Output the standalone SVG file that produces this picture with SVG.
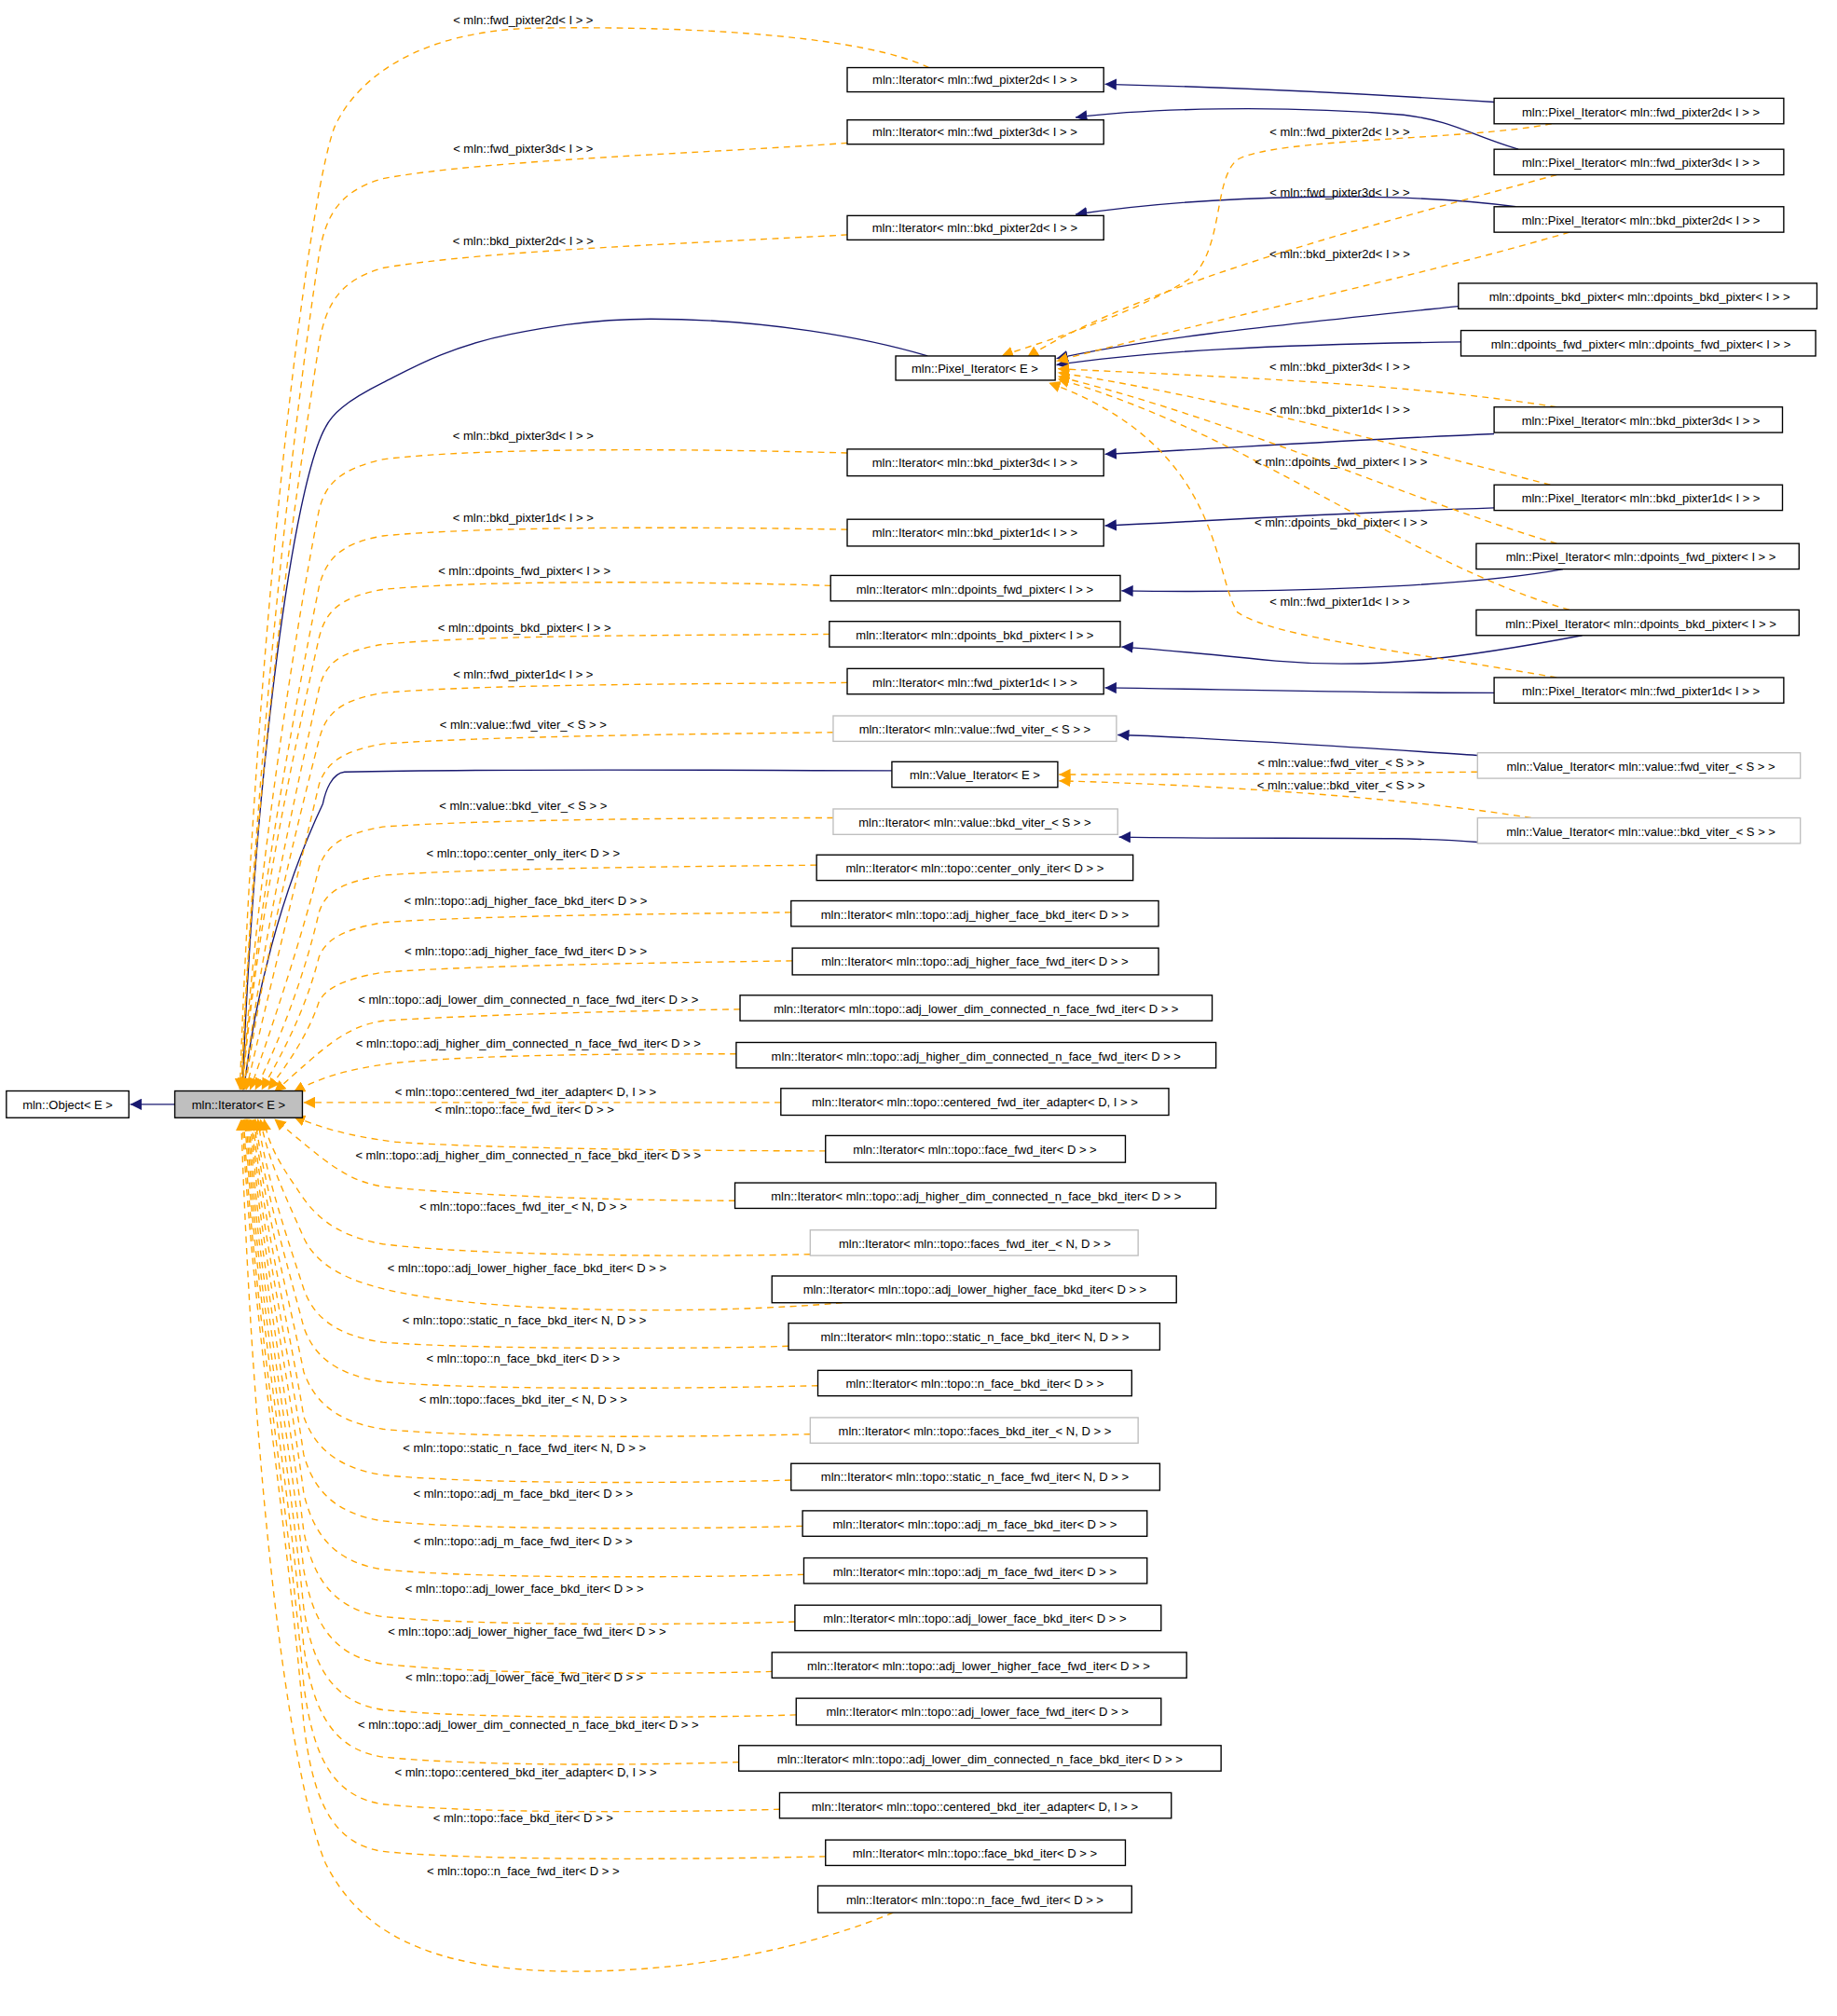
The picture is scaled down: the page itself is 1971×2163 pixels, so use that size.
<svg xmlns="http://www.w3.org/2000/svg" width="1971" height="2163" viewBox="0 0 1971 2163">
<style>
.n rect{fill:#fff;stroke:#000;stroke-width:1}
.g rect{fill:#fff;stroke:#bfbfbf;stroke-width:1}
text{font-family:"Liberation Sans",Arial,sans-serif;font-size:9.5px;fill:#000;text-anchor:middle}
.o{fill:none;stroke:#ffa500;stroke-width:1;stroke-dasharray:5,4;marker-end:url(#ao)}
.b{fill:none;stroke:#191970;stroke-width:1;marker-end:url(#ab)}
</style>
<defs>
<marker id="ao" viewBox="0 0 10 10" refX="10" refY="5" markerWidth="9" markerHeight="9" markerUnits="userSpaceOnUse" orient="auto"><path d="M0,0L10,5L0,10z" fill="#ffa500"/></marker>
<marker id="ab" viewBox="0 0 10 10" refX="10" refY="5" markerWidth="9" markerHeight="9" markerUnits="userSpaceOnUse" orient="auto"><path d="M0,0L10,5L0,10z" fill="#191970"/></marker>
</defs>
<rect width="1971" height="2163" fill="#fff"/>
<g transform="scale(1.369)">
<g id="edges">
<path class="b" d="M137,865.5L102,865.5"/>
<path class="b" d="M727,279C680,265 600,250 510,250C460,250 420,258 400,262C350,272 320,290 300,300C270,315 260,325 255,335C230,380 200,600 190,854"/>
<path class="b" d="M699,604C600,604 400,602 270,605C260,606 255,620 253,630C220,700 200,780 191,854"/>
<!-- left orange, above -->
<path class="o" d="M728,53C680,30 560,20 420,22C330,24 280,60 262,100C240,160 200,500 188,854"/>
<path class="o" d="M664,112C560,120 380,125 300,140C265,150 255,170 250,200C230,330 200,600 189,854"/>
<path class="o" d="M664,184C560,190 380,196 300,210C265,220 255,240 250,270C230,400 200,600 189,854"/>
<path class="o" d="M664,355C560,352 380,350 300,360C265,368 255,380 250,400C230,500 200,700 190,854"/>
<path class="o" d="M664,415C560,413 380,412 300,420C265,426 255,440 250,460C230,560 200,720 190,854"/>
<path class="o" d="M651,459C560,456 380,454 300,462C265,468 255,480 250,500C230,590 200,730 190,854"/>
<path class="o" d="M650,497C560,498 380,497 300,505C265,511 255,520 250,540C232,620 205,740 191,854"/>
<path class="o" d="M664,535C560,536 380,536 300,543C265,549 255,560 250,580C232,650 205,760 192,854"/>
<path class="o" d="M653,574C560,575 380,577 300,583C265,589 255,600 250,615C235,680 210,780 193,854"/>
<path class="o" d="M653,641C560,641 380,642 300,648C265,654 255,665 250,680C238,730 215,800 196,854"/>
<path class="o" d="M640,678C560,679 380,680 300,686C265,692 255,700 250,715C240,760 220,815 200,854"/>
<path class="o" d="M620,715C560,716 380,717 300,723C265,729 255,738 250,750C240,790 222,825 205,854"/>
<path class="o" d="M621,753C560,754 380,756 300,762C265,768 255,776 250,785C242,810 225,835 210,854"/>
<path class="o" d="M580,791C500,792 380,795 300,800C270,805 255,820 215,856"/>
<path class="o" d="M577,826C500,826 380,826 310,833C270,838 250,845 230,856"/>
<path class="o" d="M612,864L238,864"/>
<path class="o" d="M647,902C550,902 380,900 310,895C270,890 250,883 230,875"/>
<!-- left orange, below -->
<path class="o" d="M576,941C500,941 380,938 300,930C270,925 255,910 215,877"/>
<path class="o" d="M635,983C560,985 380,985 300,975C260,968 245,950 235,935C225,920 210,900 207,877"/>
<path class="o" d="M660,1021C560,1030 380,1030 300,1010C260,1000 245,985 238,970C225,940 210,910 204,877"/>
<path class="o" d="M618,1055C560,1057 380,1058 300,1052C260,1046 245,1030 238,1010C225,970 208,920 202,877"/>
<path class="o" d="M641,1086C560,1088 380,1090 300,1083C260,1077 245,1060 238,1040C225,990 207,930 200,877"/>
<path class="o" d="M635,1124C560,1126 380,1128 300,1120C260,1114 245,1095 238,1075C225,1010 206,940 199,877"/>
<path class="o" d="M620,1160C560,1162 380,1164 300,1156C260,1150 245,1130 238,1110C225,1030 205,950 198,877"/>
<path class="o" d="M629,1196C560,1198 380,1200 300,1192C260,1186 245,1165 238,1140C225,1050 204,960 197,877"/>
<path class="o" d="M630,1234C560,1236 380,1238 300,1230C260,1224 245,1200 238,1170C225,1070 203,970 196,877"/>
<path class="o" d="M623,1271C560,1273 380,1275 300,1267C260,1261 245,1235 238,1200C225,1090 202,980 195,877"/>
<path class="o" d="M605,1310C540,1312 380,1313 300,1304C260,1298 245,1270 238,1230C225,1110 201,990 194,877"/>
<path class="o" d="M624,1344C560,1346 380,1348 300,1340C260,1334 245,1305 238,1260C225,1130 200,1000 193,877"/>
<path class="o" d="M579,1381C520,1383 380,1385 300,1377C260,1371 245,1340 238,1290C225,1150 199,1010 192,877"/>
<path class="o" d="M611,1418C540,1420 380,1422 300,1414C260,1408 245,1375 238,1320C225,1170 198,1020 191,877"/>
<path class="o" d="M647,1455C560,1457 380,1459 300,1451C260,1445 245,1410 238,1350C225,1190 197,1030 190,877"/>
<path class="o" d="M700,1499C650,1520 560,1545 450,1545C330,1545 280,1510 255,1460C230,1400 200,1200 189,877"/>
<!-- right navy -->
<path class="b" d="M1171,80C1050,72 950,68 866,66"/>
<path class="b" d="M1190,117C1150,105 1140,95 1100,90C1000,82 900,85 843,92"/>
<path class="b" d="M1188,162C1100,150 950,152 843,168"/>
<path class="b" d="M1143,240C1000,255 900,265 828,281"/>
<path class="b" d="M1145,268C1000,270 900,275 828,286"/>
<path class="b" d="M1171,340C1050,345 950,352 866,356"/>
<path class="b" d="M1171,398C1050,402 950,408 866,412"/>
<path class="b" d="M1225,446C1150,460 1000,465 879,463"/>
<path class="b" d="M1240,498C1150,515 1080,525 1000,518C950,513 900,508 879,507"/>
<path class="b" d="M1171,543C1050,543 950,540 866,539"/>
<path class="b" d="M1158,592C1050,585 950,578 876,576"/>
<path class="b" d="M1158,660C1100,655 1000,658 877,656"/>
<!-- right orange -->
<path class="o" d="M1216,97C1150,110 1000,108 970,125C950,140 960,200 930,220C880,250 810,270 785,279"/>
<path class="o" d="M1220,137C1100,170 900,220 805,280"/>
<path class="o" d="M1230,182C1100,220 950,250 828,283"/>
<path class="o" d="M1220,319C1100,300 950,295 829,289"/>
<path class="o" d="M1215,380C1100,350 950,310 829,292"/>
<path class="o" d="M1220,426C1100,390 970,330 829,295"/>
<path class="o" d="M1230,478C1100,440 980,340 829,297"/>
<path class="o" d="M1220,531C1100,510 1000,500 970,480C950,450 960,350 822,300"/>
<path class="o" d="M1158,605C1050,606 950,607 830,607"/>
<path class="o" d="M1200,641C1100,625 950,615 830,612"/>
<!-- labels -->
<text x="410" y="19">&lt; mln::fwd_pixter2d&lt; I &gt; &gt;</text>
<text x="410" y="120">&lt; mln::fwd_pixter3d&lt; I &gt; &gt;</text>
<text x="410" y="192">&lt; mln::bkd_pixter2d&lt; I &gt; &gt;</text>
<text x="410" y="345">&lt; mln::bkd_pixter3d&lt; I &gt; &gt;</text>
<text x="410" y="409">&lt; mln::bkd_pixter1d&lt; I &gt; &gt;</text>
<text x="411" y="451">&lt; mln::dpoints_fwd_pixter&lt; I &gt; &gt;</text>
<text x="411" y="495">&lt; mln::dpoints_bkd_pixter&lt; I &gt; &gt;</text>
<text x="410" y="532">&lt; mln::fwd_pixter1d&lt; I &gt; &gt;</text>
<text x="410" y="571">&lt; mln::value::fwd_viter_&lt; S &gt; &gt;</text>
<text x="410" y="635">&lt; mln::value::bkd_viter_&lt; S &gt; &gt;</text>
<text x="410" y="672">&lt; mln::topo::center_only_iter&lt; D &gt; &gt;</text>
<text x="412" y="709">&lt; mln::topo::adj_higher_face_bkd_iter&lt; D &gt; &gt;</text>
<text x="412" y="749">&lt; mln::topo::adj_higher_face_fwd_iter&lt; D &gt; &gt;</text>
<text x="414" y="787">&lt; mln::topo::adj_lower_dim_connected_n_face_fwd_iter&lt; D &gt; &gt;</text>
<text x="414" y="821">&lt; mln::topo::adj_higher_dim_connected_n_face_fwd_iter&lt; D &gt; &gt;</text>
<text x="412" y="859">&lt; mln::topo::centered_fwd_iter_adapter&lt; D, I &gt; &gt;</text>
<text x="411" y="873">&lt; mln::topo::face_fwd_iter&lt; D &gt; &gt;</text>
<text x="414" y="909">&lt; mln::topo::adj_higher_dim_connected_n_face_bkd_iter&lt; D &gt; &gt;</text>
<text x="410" y="949">&lt; mln::topo::faces_fwd_iter_&lt; N, D &gt; &gt;</text>
<text x="413" y="997">&lt; mln::topo::adj_lower_higher_face_bkd_iter&lt; D &gt; &gt;</text>
<text x="411" y="1038">&lt; mln::topo::static_n_face_bkd_iter&lt; N, D &gt; &gt;</text>
<text x="410" y="1068">&lt; mln::topo::n_face_bkd_iter&lt; D &gt; &gt;</text>
<text x="410" y="1100">&lt; mln::topo::faces_bkd_iter_&lt; N, D &gt; &gt;</text>
<text x="411" y="1138">&lt; mln::topo::static_n_face_fwd_iter&lt; N, D &gt; &gt;</text>
<text x="410" y="1174">&lt; mln::topo::adj_m_face_bkd_iter&lt; D &gt; &gt;</text>
<text x="410" y="1211">&lt; mln::topo::adj_m_face_fwd_iter&lt; D &gt; &gt;</text>
<text x="411" y="1248">&lt; mln::topo::adj_lower_face_bkd_iter&lt; D &gt; &gt;</text>
<text x="413" y="1282">&lt; mln::topo::adj_lower_higher_face_fwd_iter&lt; D &gt; &gt;</text>
<text x="411" y="1318">&lt; mln::topo::adj_lower_face_fwd_iter&lt; D &gt; &gt;</text>
<text x="414" y="1355">&lt; mln::topo::adj_lower_dim_connected_n_face_bkd_iter&lt; D &gt; &gt;</text>
<text x="412" y="1392">&lt; mln::topo::centered_bkd_iter_adapter&lt; D, I &gt; &gt;</text>
<text x="410" y="1428">&lt; mln::topo::face_bkd_iter&lt; D &gt; &gt;</text>
<text x="410" y="1470">&lt; mln::topo::n_face_fwd_iter&lt; D &gt; &gt;</text>
<text x="1050" y="107">&lt; mln::fwd_pixter2d&lt; I &gt; &gt;</text>
<text x="1050" y="154">&lt; mln::fwd_pixter3d&lt; I &gt; &gt;</text>
<text x="1050" y="202">&lt; mln::bkd_pixter2d&lt; I &gt; &gt;</text>
<text x="1050" y="291">&lt; mln::bkd_pixter3d&lt; I &gt; &gt;</text>
<text x="1050" y="324">&lt; mln::bkd_pixter1d&lt; I &gt; &gt;</text>
<text x="1051" y="365">&lt; mln::dpoints_fwd_pixter&lt; I &gt; &gt;</text>
<text x="1051" y="413">&lt; mln::dpoints_bkd_pixter&lt; I &gt; &gt;</text>
<text x="1050" y="475">&lt; mln::fwd_pixter1d&lt; I &gt; &gt;</text>
<text x="1051" y="601">&lt; mln::value::fwd_viter_&lt; S &gt; &gt;</text>
<text x="1051" y="619">&lt; mln::value::bkd_viter_&lt; S &gt; &gt;</text>
</g>
<g id="nodes">
<g id="object" class="n"><rect x="5" y="855" width="96" height="21"/><text x="53" y="869">mln::Object&lt; E &gt;</text></g>
<g id="iterator"><rect x="137" y="855" width="100" height="21" fill="#bfbfbf" stroke="#000"/><text x="187" y="869">mln::Iterator&lt; E &gt;</text></g>
<g id="m1" class="n"><rect x="664" y="53" width="201" height="19"/><text x="764" y="66">mln::Iterator&lt; mln::fwd_pixter2d&lt; I &gt; &gt;</text></g>
<g id="m2" class="n"><rect x="664" y="94" width="201" height="19"/><text x="764" y="107">mln::Iterator&lt; mln::fwd_pixter3d&lt; I &gt; &gt;</text></g>
<g id="m3" class="n"><rect x="664" y="169" width="201" height="19"/><text x="764" y="182">mln::Iterator&lt; mln::bkd_pixter2d&lt; I &gt; &gt;</text></g>
<g id="pixit" class="n"><rect x="702" y="279" width="125" height="19"/><text x="764" y="292">mln::Pixel_Iterator&lt; E &gt;</text></g>
<g id="m5" class="n"><rect x="664" y="352" width="201" height="21"/><text x="764" y="366">mln::Iterator&lt; mln::bkd_pixter3d&lt; I &gt; &gt;</text></g>
<g id="m6" class="n"><rect x="664" y="407" width="201" height="21"/><text x="764" y="421">mln::Iterator&lt; mln::bkd_pixter1d&lt; I &gt; &gt;</text></g>
<g id="m7" class="n"><rect x="651" y="451" width="227" height="20"/><text x="764" y="465">mln::Iterator&lt; mln::dpoints_fwd_pixter&lt; I &gt; &gt;</text></g>
<g id="m8" class="n"><rect x="650" y="487" width="228" height="20"/><text x="764" y="501">mln::Iterator&lt; mln::dpoints_bkd_pixter&lt; I &gt; &gt;</text></g>
<g id="m9" class="n"><rect x="664" y="524" width="201" height="20"/><text x="764" y="538">mln::Iterator&lt; mln::fwd_pixter1d&lt; I &gt; &gt;</text></g>
<g id="m10" class="g"><rect x="653" y="561" width="222" height="20"/><text x="764" y="575">mln::Iterator&lt; mln::value::fwd_viter_&lt; S &gt; &gt;</text></g>
<g id="valit" class="n"><rect x="699" y="597" width="130" height="20"/><text x="764" y="611">mln::Value_Iterator&lt; E &gt;</text></g>
<g id="m12" class="g"><rect x="653" y="634" width="223" height="20"/><text x="764" y="648">mln::Iterator&lt; mln::value::bkd_viter_&lt; S &gt; &gt;</text></g>
<g id="m13" class="n"><rect x="640" y="670" width="248" height="20"/><text x="764" y="684">mln::Iterator&lt; mln::topo::center_only_iter&lt; D &gt; &gt;</text></g>
<g id="m14" class="n"><rect x="620" y="706" width="288" height="20"/><text x="764" y="720">mln::Iterator&lt; mln::topo::adj_higher_face_bkd_iter&lt; D &gt; &gt;</text></g>
<g id="m15" class="n"><rect x="621" y="743" width="287" height="21"/><text x="764" y="757">mln::Iterator&lt; mln::topo::adj_higher_face_fwd_iter&lt; D &gt; &gt;</text></g>
<g id="m16" class="n"><rect x="580" y="780" width="370" height="20"/><text x="765" y="794">mln::Iterator&lt; mln::topo::adj_lower_dim_connected_n_face_fwd_iter&lt; D &gt; &gt;</text></g>
<g id="m17" class="n"><rect x="577" y="817" width="376" height="20"/><text x="765" y="831">mln::Iterator&lt; mln::topo::adj_higher_dim_connected_n_face_fwd_iter&lt; D &gt; &gt;</text></g>
<g id="m18" class="n"><rect x="612" y="853" width="304" height="21"/><text x="764" y="867">mln::Iterator&lt; mln::topo::centered_fwd_iter_adapter&lt; D, I &gt; &gt;</text></g>
<g id="m19" class="n"><rect x="647" y="890" width="235" height="21"/><text x="764" y="904">mln::Iterator&lt; mln::topo::face_fwd_iter&lt; D &gt; &gt;</text></g>
<g id="m20" class="n"><rect x="576" y="927" width="377" height="20"/><text x="765" y="941">mln::Iterator&lt; mln::topo::adj_higher_dim_connected_n_face_bkd_iter&lt; D &gt; &gt;</text></g>
<g id="m21" class="g"><rect x="635" y="964" width="257" height="20"/><text x="764" y="978">mln::Iterator&lt; mln::topo::faces_fwd_iter_&lt; N, D &gt; &gt;</text></g>
<g id="m22" class="n"><rect x="605" y="1000" width="317" height="21"/><text x="764" y="1014">mln::Iterator&lt; mln::topo::adj_lower_higher_face_bkd_iter&lt; D &gt; &gt;</text></g>
<g id="m23" class="n"><rect x="618" y="1037" width="291" height="21"/><text x="764" y="1051">mln::Iterator&lt; mln::topo::static_n_face_bkd_iter&lt; N, D &gt; &gt;</text></g>
<g id="m24" class="n"><rect x="641" y="1074" width="246" height="20"/><text x="764" y="1088">mln::Iterator&lt; mln::topo::n_face_bkd_iter&lt; D &gt; &gt;</text></g>
<g id="m25" class="g"><rect x="635" y="1111" width="257" height="20"/><text x="764" y="1125">mln::Iterator&lt; mln::topo::faces_bkd_iter_&lt; N, D &gt; &gt;</text></g>
<g id="m26" class="n"><rect x="620" y="1147" width="289" height="21"/><text x="764" y="1161">mln::Iterator&lt; mln::topo::static_n_face_fwd_iter&lt; N, D &gt; &gt;</text></g>
<g id="m27" class="n"><rect x="629" y="1184" width="270" height="20"/><text x="764" y="1198">mln::Iterator&lt; mln::topo::adj_m_face_bkd_iter&lt; D &gt; &gt;</text></g>
<g id="m28" class="n"><rect x="630" y="1221" width="269" height="20"/><text x="764" y="1235">mln::Iterator&lt; mln::topo::adj_m_face_fwd_iter&lt; D &gt; &gt;</text></g>
<g id="m29" class="n"><rect x="623" y="1258" width="287" height="20"/><text x="764" y="1272">mln::Iterator&lt; mln::topo::adj_lower_face_bkd_iter&lt; D &gt; &gt;</text></g>
<g id="m30" class="n"><rect x="605" y="1295" width="325" height="20"/><text x="767" y="1309">mln::Iterator&lt; mln::topo::adj_lower_higher_face_fwd_iter&lt; D &gt; &gt;</text></g>
<g id="m31" class="n"><rect x="624" y="1331" width="286" height="21"/><text x="766" y="1345">mln::Iterator&lt; mln::topo::adj_lower_face_fwd_iter&lt; D &gt; &gt;</text></g>
<g id="m32" class="n"><rect x="579" y="1368" width="378" height="20"/><text x="768" y="1382">mln::Iterator&lt; mln::topo::adj_lower_dim_connected_n_face_bkd_iter&lt; D &gt; &gt;</text></g>
<g id="m33" class="n"><rect x="611" y="1405" width="307" height="20"/><text x="764" y="1419">mln::Iterator&lt; mln::topo::centered_bkd_iter_adapter&lt; D, I &gt; &gt;</text></g>
<g id="m34" class="n"><rect x="647" y="1442" width="235" height="20"/><text x="764" y="1456">mln::Iterator&lt; mln::topo::face_bkd_iter&lt; D &gt; &gt;</text></g>
<g id="m35" class="n"><rect x="641" y="1478" width="246" height="21"/><text x="764" y="1492">mln::Iterator&lt; mln::topo::n_face_fwd_iter&lt; D &gt; &gt;</text></g>
<g id="r1" class="n"><rect x="1171" y="77" width="227" height="20"/><text x="1286" y="91">mln::Pixel_Iterator&lt; mln::fwd_pixter2d&lt; I &gt; &gt;</text></g>
<g id="r2" class="n"><rect x="1171" y="117" width="227" height="20"/><text x="1286" y="131">mln::Pixel_Iterator&lt; mln::fwd_pixter3d&lt; I &gt; &gt;</text></g>
<g id="r3" class="n"><rect x="1171" y="162" width="227" height="20"/><text x="1286" y="176">mln::Pixel_Iterator&lt; mln::bkd_pixter2d&lt; I &gt; &gt;</text></g>
<g id="r4" class="n"><rect x="1143" y="222" width="281" height="20"/><text x="1285" y="236">mln::dpoints_bkd_pixter&lt; mln::dpoints_bkd_pixter&lt; I &gt; &gt;</text></g>
<g id="r5" class="n"><rect x="1145" y="259" width="278" height="20"/><text x="1286" y="273">mln::dpoints_fwd_pixter&lt; mln::dpoints_fwd_pixter&lt; I &gt; &gt;</text></g>
<g id="r6" class="n"><rect x="1171" y="319" width="226" height="20"/><text x="1286" y="333">mln::Pixel_Iterator&lt; mln::bkd_pixter3d&lt; I &gt; &gt;</text></g>
<g id="r7" class="n"><rect x="1171" y="380" width="226" height="20"/><text x="1286" y="394">mln::Pixel_Iterator&lt; mln::bkd_pixter1d&lt; I &gt; &gt;</text></g>
<g id="r8" class="n"><rect x="1157" y="426" width="253" height="20"/><text x="1286" y="440">mln::Pixel_Iterator&lt; mln::dpoints_fwd_pixter&lt; I &gt; &gt;</text></g>
<g id="r9" class="n"><rect x="1157" y="478" width="253" height="20"/><text x="1286" y="492">mln::Pixel_Iterator&lt; mln::dpoints_bkd_pixter&lt; I &gt; &gt;</text></g>
<g id="r10" class="n"><rect x="1171" y="531" width="227" height="20"/><text x="1286" y="545">mln::Pixel_Iterator&lt; mln::fwd_pixter1d&lt; I &gt; &gt;</text></g>
<g id="r11" class="g"><rect x="1158" y="590" width="253" height="20"/><text x="1286" y="604">mln::Value_Iterator&lt; mln::value::fwd_viter_&lt; S &gt; &gt;</text></g>
<g id="r12" class="g"><rect x="1158" y="641" width="253" height="20"/><text x="1286" y="655">mln::Value_Iterator&lt; mln::value::bkd_viter_&lt; S &gt; &gt;</text></g>
</g>
</g>
</svg>
